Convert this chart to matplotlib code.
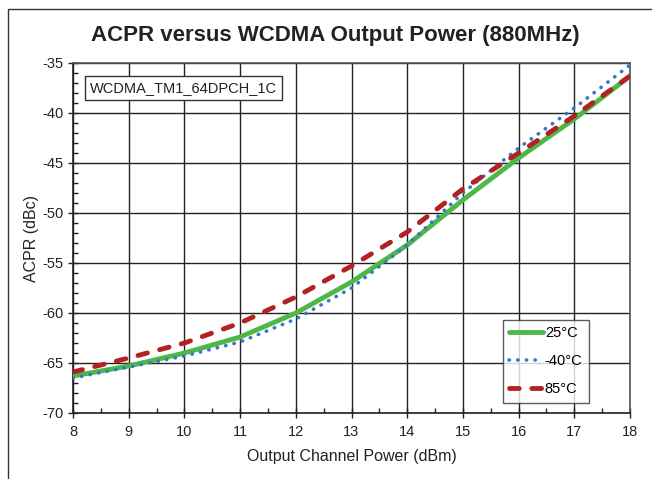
import matplotlib
matplotlib.use("Agg")
import matplotlib.pyplot as plt
from matplotlib.ticker import MultipleLocator
from matplotlib.patches import Rectangle

plt.rcParams['font.family'] = ['Liberation Sans', 'DejaVu Sans']
plt.rcParams['axes.unicode_minus'] = False

power = [8, 9, 10, 11, 12, 13, 14, 15, 16, 17, 18]
acpr_25 = [-66.3, -65.3, -64.0, -62.4, -60.0, -56.9, -53.2, -48.7, -44.5, -40.6, -36.3]
acpr_m40 = [-66.5, -65.4, -64.3, -62.9, -60.6, -57.5, -53.2, -48.0, -43.5, -39.5, -35.2]
acpr_85 = [-65.9, -64.5, -63.0, -61.0, -58.4, -55.3, -51.9, -47.6, -44.0, -40.3, -36.3]
labels = ['25°C', '-40°C', '85°C']

fig = plt.figure(figsize=(6.52, 4.79), dpi=100)
# outer frame
fig.patches.append(Rectangle((8/652, -0.1), 1.0, 1 - 9/479 + 0.1, transform=fig.transFigure,
                             fill=False, edgecolor='#333333', linewidth=1.0))

ax = fig.add_axes([73/652, 1 - 413/479, (630 - 73)/652, (413 - 63)/479])
ax.plot(power, acpr_25, color='#4db848', linewidth=3.5, solid_capstyle='round', label=labels[0], zorder=3)
ax.plot(power, acpr_m40, color='#3a78c4', linewidth=2.6, linestyle=(0, (0.1, 2.3)),
        dash_capstyle='round', label=labels[1], zorder=4)
ax.plot(power, acpr_85, color='#b22222', linewidth=3.5, linestyle=(0, (2.0, 2.6)),
        dash_capstyle='round', label=labels[2], zorder=5)

ax.set_xlim(8, 18)
ax.set_ylim(-70, -35)
ax.xaxis.set_major_locator(MultipleLocator(1))
ax.xaxis.set_minor_locator(MultipleLocator(0.5))
ax.yaxis.set_major_locator(MultipleLocator(5))
ax.yaxis.set_minor_locator(MultipleLocator(1))
ax.tick_params(which='major', direction='inout', length=7, width=1, labelsize=10.5, colors='#222222')
ax.tick_params(axis='x', which='major', pad=5)
ax.tick_params(which='minor', direction='in', length=3.5, width=1, colors='#222222')
ax.grid(True, which='major', color='#222222', linewidth=1.0)
for s in ['left', 'bottom']:
    ax.spines[s].set_color('#222222')
    ax.spines[s].set_linewidth(1.2)
for s in ['top', 'right']:
    ax.spines[s].set_color('#555555')
    ax.spines[s].set_linewidth(1.2)

ax.set_xlabel('Output Channel Power (dBm)', fontsize=11.5, color='#222222', labelpad=7)
ax.set_ylabel('ACPR (dBc)', fontsize=11.5, color='#222222', labelpad=2)
fig.text(335 / 652, 1 - 35/479, 'ACPR versus WCDMA Output Power (880MHz)',
         ha='center', va='center', fontsize=16, fontweight='bold', color='#222222')

ax.text(0.031, 0.928, 'WCDMA_TM1_64DPCH_1C', transform=ax.transAxes, fontsize=10.5,
        color='#222222', va='center', ha='left',
        bbox=dict(boxstyle='square,pad=0.35', facecolor='white', edgecolor='#333333', linewidth=1.0),
        zorder=6)

leg = ax.legend(loc='lower right', bbox_to_anchor=(0.9265, 0.03), fontsize=10.5, frameon=True,
                fancybox=False, handlelength=2.3, handletextpad=0.15, borderpad=0.45,
                labelspacing=0.95, borderaxespad=0)
leg.get_frame().set_edgecolor('#333333')
leg.get_frame().set_linewidth(1.0)
leg.set_zorder(10)

fig.savefig('out.png', dpi=100)
